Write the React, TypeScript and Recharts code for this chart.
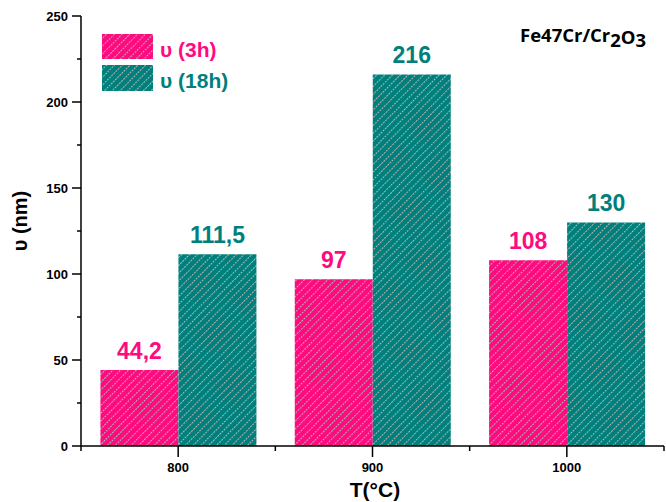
import React from 'react';
import { BarChart, Bar, XAxis, YAxis, LabelList } from 'recharts';

const categories = ['800', '900', '1000'];
const thickness3h = [44.2, 97, 108];
const thickness18h = [111.5, 216, 130];
const yTicks = [0, 25, 50, 75, 100, 125, 150, 175, 200, 225, 250];

const PINK = '#FF0A7F';
const TEAL = '#00807C';
const HATCH = '#b4b4b4';
const FONT = '"Liberation Sans", Arial, sans-serif';

const W = 666;
const H = 502;
const M = { top: 16, right: 2, left: 0, bottom: 0 };
const Y_W = 81;
// половина ширины категории (для засечек на границах)
const HALF_BAND = (W - Y_W - M.right) / categories.length / 2;

const data = categories.map((t, i) => ({ T: t, h3: thickness3h[i], h18: thickness18h[i] }));

const fmt = (v: any) => String(v).replace('.', ',');

const XTick = (props: any) => {
  const { x, y, payload, index } = props;
  const half = payload && typeof payload.offset === 'number' && payload.offset > 0 ? payload.offset : HALF_BAND;
  return (
    <g>
      <line x1={x} x2={x} y1={y} y2={y + 11} stroke="#000" strokeWidth={1.5} />
      <line x1={x - half} x2={x - half} y1={y} y2={y + 5} stroke="#000" strokeWidth={1.5} />
      {index === categories.length - 1 && (
        <line x1={x + half} x2={x + half} y1={y} y2={y + 5} stroke="#000" strokeWidth={1.5} />
      )}
      <text x={x} y={y + 26} textAnchor="middle" fontFamily={FONT} fontWeight="bold" fontSize={13} fill="#000">
        {payload.value}
      </text>
    </g>
  );
};

const TopTick = (props: any) => {
  const { x, y, payload, index } = props;
  const half = payload && typeof payload.offset === 'number' && payload.offset > 0 ? payload.offset : HALF_BAND;
  return (
    <g>
      <line x1={x} x2={x} y1={y} y2={y + 5} stroke="#000" strokeWidth={1} />
      <line x1={x - half} x2={x - half} y1={y} y2={y + 4} stroke="#000" strokeWidth={1} />
      {index === categories.length - 1 && (
        <line x1={x + half} x2={x + half} y1={y} y2={y + 4} stroke="#000" strokeWidth={1} />
      )}
    </g>
  );
};

const YTick = (props: any) => {
  const { x, y, payload } = props;
  const major = payload.value % 50 === 0;
  return (
    <g>
      <line x1={x - (major ? 9 : 4)} x2={x} y1={y} y2={y} stroke="#000" strokeWidth={1.5} />
      {major && (
        <text x={x - 13} y={y + 4.5} textAnchor="end" fontFamily={FONT} fontWeight="bold" fontSize={13} fill="#000">
          {payload.value}
        </text>
      )}
    </g>
  );
};

const App = () => {
  return (
    <div style={{ position: 'absolute', left: 0, top: 0, width: W, height: H, background: '#fff' }}>
      <BarChart width={W} height={H} data={data} margin={M} barCategoryGap="10%" barGap={0}>
        <defs>
          <pattern id="hatch3h" patternUnits="userSpaceOnUse" width={5.5} height={6} patternTransform="rotate(45)">
            <rect width={5.5} height={6} fill={PINK} />
            <line x1={0.5} y1={0} x2={0.5} y2={6} stroke={HATCH} strokeWidth={1} strokeDasharray="2 1" />
          </pattern>
          <pattern id="hatch18h" patternUnits="userSpaceOnUse" width={5.5} height={6} patternTransform="rotate(45)">
            <rect width={5.5} height={6} fill={TEAL} />
            <line x1={0.5} y1={0} x2={0.5} y2={6} stroke={HATCH} strokeWidth={1} strokeDasharray="2 1" />
          </pattern>
        </defs>
        <XAxis
          dataKey="T"
          height={56}
          interval={0}
          tickLine={false}
          tickSize={0}
          tickMargin={0}
          tick={XTick}
          axisLine={{ stroke: '#000', strokeWidth: 1.5 }}
        />
        <XAxis
          xAxisId="top"
          dataKey="T"
          orientation="top"
          height={0}
          interval={0}
          tickLine={false}
          tickSize={0}
          tickMargin={0}
          tick={TopTick}
          axisLine={{ stroke: '#000', strokeWidth: 1.5 }}
        />
        <YAxis
          domain={[0, 250]}
          ticks={yTicks}
          interval={0}
          width={Y_W}
          tickLine={false}
          tickSize={0}
          tickMargin={0}
          tick={YTick}
          axisLine={{ stroke: '#000', strokeWidth: 1.5 }}
        />
        <YAxis
          yAxisId="right"
          orientation="right"
          domain={[0, 250]}
          width={0}
          tick={false}
          tickLine={false}
          axisLine={{ stroke: '#000', strokeWidth: 1.5 }}
        />
        <Bar dataKey="h3" fill="url(#hatch3h)" isAnimationActive={false}>
          <LabelList dataKey="h3" position="top" offset={11} fill={PINK} fontSize={23} fontWeight="bold" fontFamily={FONT} formatter={fmt} />
        </Bar>
        <Bar dataKey="h18" fill="url(#hatch18h)" isAnimationActive={false}>
          <LabelList dataKey="h18" position="top" offset={11} fill={TEAL} fontSize={23} fontWeight="bold" fontFamily={FONT} formatter={fmt} />
        </Bar>
      </BarChart>
      <svg width={W} height={H} style={{ position: 'absolute', left: 0, top: 0, pointerEvents: 'none' }}>
        {/* легенда */}
        <rect x={102} y={34} width={51} height={25} fill="url(#hatch3h)" />
        <text x={160} y={57} fontFamily={FONT} fontWeight="bold" fontSize={21} fill={PINK}>υ (3h)</text>
        <rect x={102} y={65} width={51} height={26} fill="url(#hatch18h)" />
        <text x={160} y={88} fontFamily={FONT} fontWeight="bold" fontSize={21} fill={TEAL}>υ (18h)</text>
        {/* подпись образца */}
        <text x={520} y={42} fontFamily='"Open Sans", sans-serif' fontWeight={700} fontSize={18.5} fill="#000">
          Fe47Cr/Cr<tspan dy={5}>2</tspan><tspan dy={-3}>O</tspan><tspan dy={3}>3</tspan>
        </text>
        {/* подписи осей */}
        <text x={375} y={497} textAnchor="middle" fontFamily={FONT} fontWeight="bold" fontSize={21} fill="#000">T(°C)</text>
        <text x={27} y={221} textAnchor="middle" transform="rotate(-90 27 221)" fontFamily={FONT} fontWeight="bold" fontSize={20} fill="#000">υ (nm)</text>
      </svg>
    </div>
  );
};

export default App;
